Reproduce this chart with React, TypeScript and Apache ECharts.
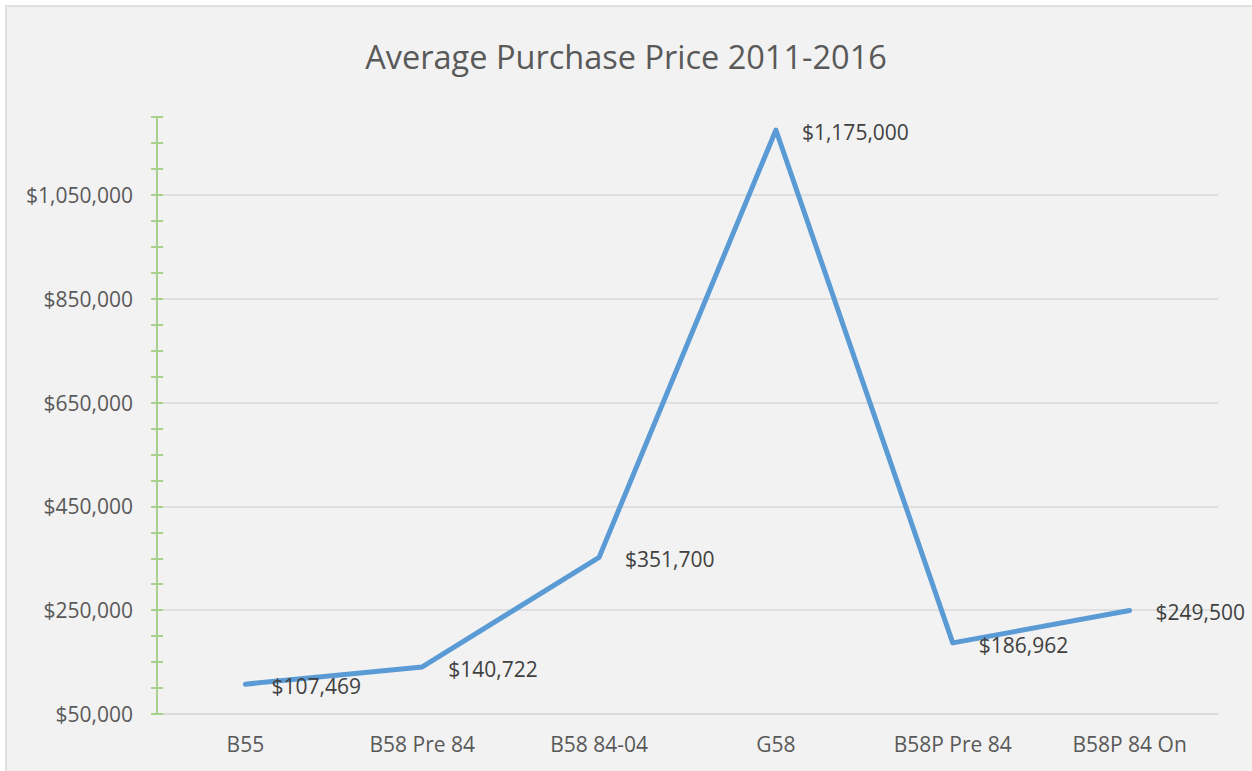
import React, { useEffect, useRef } from "react";
import * as echarts from "echarts";

const categories = ["B55", "B58 Pre 84", "B58 84-04", "G58", "B58P Pre 84", "B58P 84 On"];
const prices = [107469, 140722, 351700, 1175000, 186962, 249500];
const yMin = 50000;
const yMax = 1200000;
const yLabelStep = 200000;
const yTickStep = 50000;
const title = "Average Purchase Price 2011-2016";

const fmt = (v: number) => "$" + Math.round(v).toLocaleString("en-US");

export default function App() {
  const ref = useRef<HTMLDivElement>(null);
  useEffect(() => {
    if (!ref.current) return;
    const chart = echarts.init(ref.current, undefined, { renderer: "svg" });
    const font = "'Open Sans', sans-serif";
    const green = "#a9d18e";
    const decoAxis = (inside: boolean, showLine: boolean) => ({
      type: "value",
      position: "left",
      min: yMin,
      max: yMax,
      interval: yTickStep,
      axisLine: { show: showLine, lineStyle: { color: green, width: 2 } },
      axisTick: { show: true, inside, length: 6, lineStyle: { color: green, width: 2 } },
      axisLabel: { show: false },
      splitLine: { show: false },
    });
    chart.setOption({
      animation: false,
      backgroundColor: "#ffffff",
      graphic: [
        {
          type: "rect",
          shape: { x: 6, y: 6, width: 1270, height: 790 },
          style: { fill: "#f2f2f2", stroke: "#d9d9d9", lineWidth: 1.5 },
          z: -10,
          silent: true,
        },
      ],
      title: {
        text: title,
        left: "center",
        top: 35,
        textStyle: { fontFamily: font, fontSize: 32.5, fontWeight: "normal", color: "#595959" },
      },
      grid: { left: 157, right: 34, top: 117, bottom: 57, containLabel: false },
      xAxis: {
        type: "category",
        data: categories,
        boundaryGap: true,
        axisLine: { show: true, lineStyle: { color: "#d9d9d9", width: 1.5 } },
        axisTick: { show: false },
        axisLabel: { fontFamily: font, fontSize: 21, color: "#595959", margin: 19 },
      },
      yAxis: [
        {
          type: "value",
          min: yMin,
          max: yMax,
          interval: yLabelStep,
          axisLine: { show: false },
          axisTick: { show: false },
          axisLabel: {
            fontFamily: font,
            fontSize: 21,
            color: "#595959",
            margin: 24,
            showMaxLabel: false,
            formatter: (v: number) => fmt(v),
          },
          splitLine: { show: true, showMaxLine: false, lineStyle: { color: "#d9d9d9", width: 1.5 } },
        },
        decoAxis(false, true),
        decoAxis(true, false),
      ],
      series: [
        {
          type: "line",
          data: prices,
          yAxisIndex: 0,
          showSymbol: true,
          symbol: "circle",
          symbolSize: 2,
          itemStyle: { color: "#5b9bd5" },
          lineStyle: { color: "#5b9bd5", width: 5, cap: "round", join: "round" },
          label: {
            show: true,
            position: "right",
            distance: 25,
            offset: [0, 2],
            fontFamily: font,
            fontSize: 21,
            color: "#404040",
            formatter: (p: any) => fmt(p.value),
          },
        },
      ],
    });
    return () => chart.dispose();
  }, []);
  return (
    <div
      ref={ref}
      style={{ position: "absolute", left: 0, top: 0, width: 1252, height: 771 }}
    />
  );
}
